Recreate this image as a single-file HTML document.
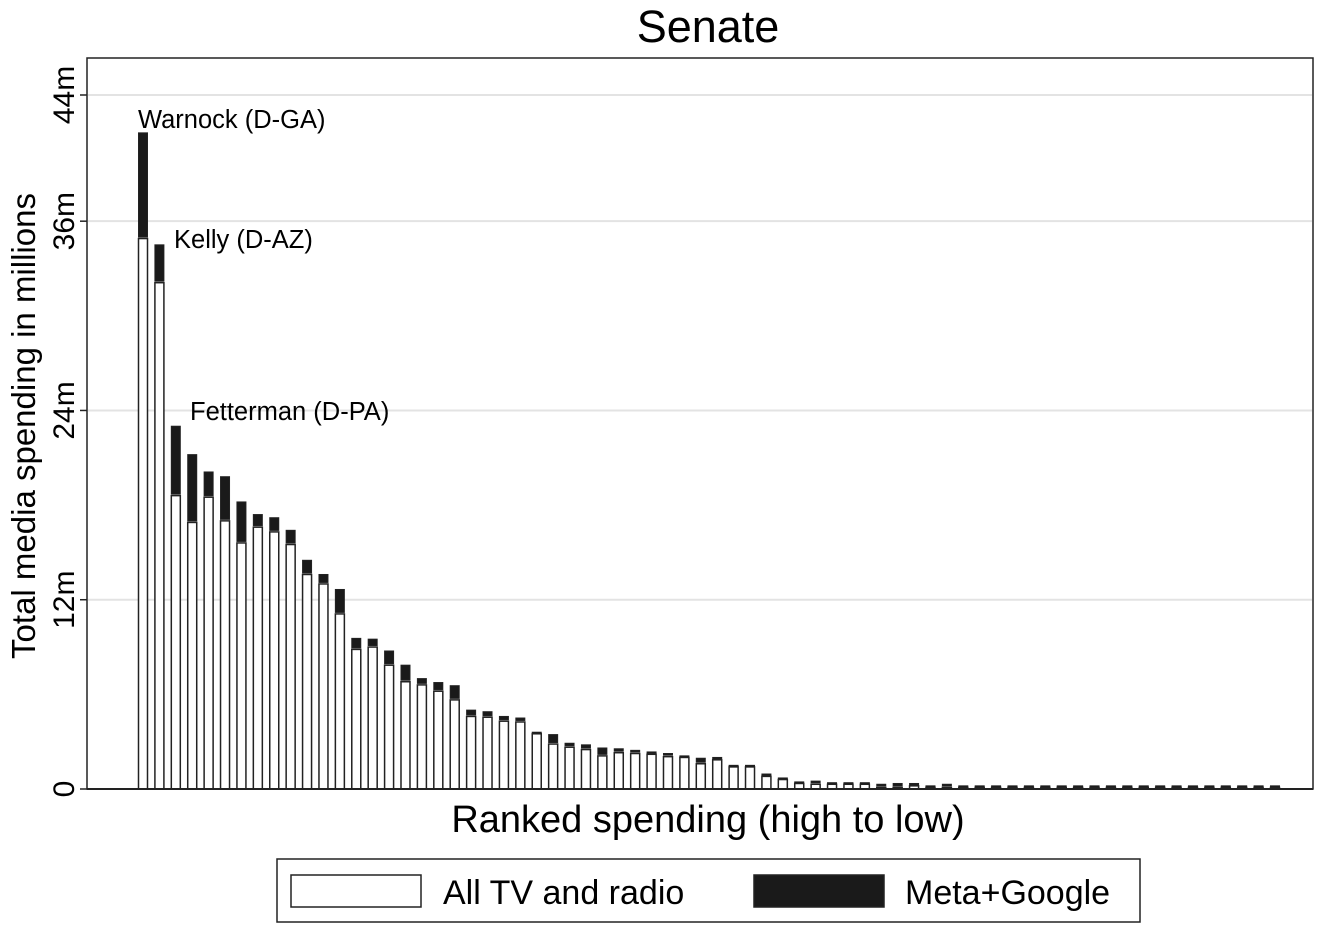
<!DOCTYPE html>
<html><head><meta charset="utf-8"><style>
body{margin:0;background:#fff;}
svg{display:block;font-family:"Liberation Sans",sans-serif;}
</style></head><body>
<svg id="chart" width="1323" height="930">
<text x="708" y="42" font-size="45" text-anchor="middle">Senate</text>
<rect x="87" y="58" width="1226" height="731" fill="#fff" stroke="#222" stroke-width="1.5"/>
<g id="grid"></g>
<g id="bars"></g>
<g id="yticks"></g>
<text transform="translate(35,426) rotate(-90)" font-size="33" text-anchor="middle">Total media spending in millions</text>
<text x="708" y="832" font-size="38" text-anchor="middle">Ranked spending (high to low)</text>
<text x="138" y="128" font-size="25.5">Warnock (D-GA)</text>
<text x="174" y="248" font-size="25.5">Kelly (D-AZ)</text>
<text x="190" y="420" font-size="25.5">Fetterman (D-PA)</text>
<g>
<rect x="277" y="859" width="863" height="63" fill="#fff" stroke="#222" stroke-width="1.5"/>
<rect x="291" y="875" width="130" height="32" fill="#fff" stroke="#222" stroke-width="1.5"/>
<text x="443" y="904" font-size="34">All TV and radio</text>
<rect x="754" y="875" width="130" height="32" fill="#1a1a1a" stroke="#222" stroke-width="1.5"/>
<text x="905" y="904" font-size="34">Meta+Google</text>
</g>
</svg>
<script>
const tvValues=[34.9,32.1,18.6,16.9,18.5,17.0,15.6,16.6,16.3,15.5,13.6,13.0,11.1,8.85,9.0,7.85,6.8,6.6,6.2,5.65,4.6,4.55,4.3,4.25,3.5,2.85,2.65,2.5,2.1,2.3,2.25,2.2,2.05,2.0,1.6,1.85,1.4,1.4,0.8,0.6,0.35,0.3,0.3,0.3,0.3,0.1,0.1,0.2,0.1,0.1,0.1,0.1,0.1,0.1,0.1,0.1,0.1,0.1,0.1,0.1,0.1,0.1,0.1,0.1,0.1,0.1,0.1,0.1,0.1,0.1];
const totalValues=[41.6,34.5,23.0,21.2,20.1,19.8,18.2,17.4,17.2,16.4,14.5,13.6,12.65,9.55,9.5,8.75,7.85,7.0,6.75,6.55,5.0,4.9,4.6,4.5,3.6,3.45,2.9,2.8,2.6,2.55,2.45,2.35,2.25,2.1,1.95,2.0,1.5,1.5,0.95,0.7,0.45,0.5,0.4,0.4,0.4,0.3,0.35,0.35,0.2,0.3,0.2,0.2,0.2,0.2,0.2,0.2,0.2,0.2,0.2,0.2,0.2,0.2,0.2,0.2,0.2,0.2,0.2,0.2,0.2,0.2];
const yTicks=[0,12,24,36,44];
const yTickLabels=["0","12m","24m","36m","44m"];
const NS="http://www.w3.org/2000/svg";
function y(v){return 789-v*(789-95)/44;}
function x(i){return 143+i*(1275-143)/69;}
const grid=document.getElementById('grid'),yt=document.getElementById('yticks'),bars=document.getElementById('bars');
yTicks.forEach((t,k)=>{
 if(t>0){const l=document.createElementNS(NS,'line');
 l.setAttribute('x1',88);l.setAttribute('x2',1312);l.setAttribute('y1',y(t));l.setAttribute('y2',y(t));
 l.setAttribute('stroke','#e3e3e3');l.setAttribute('stroke-width','2');
 
 
 grid.appendChild(l);}
 const tk=document.createElementNS(NS,'line');
 tk.setAttribute('x1',80);tk.setAttribute('x2',87);tk.setAttribute('y1',y(t));tk.setAttribute('y2',y(t));tk.setAttribute('stroke','#222');tk.setAttribute('stroke-width','1.5');
 
 
 yt.appendChild(tk);
 const tx=document.createElementNS(NS,'text');
 tx.setAttribute('transform','translate(74,'+y(t)+') rotate(-90)');
 tx.setAttribute('text-anchor','middle');tx.setAttribute('font-size','30');
 tx.textContent=yTickLabels[k];
 
 
 yt.appendChild(tx);
});
const bw=9;
tvValues.forEach((tv,i)=>{
 const tot=totalValues[i];
 const r=document.createElementNS(NS,'rect');
 r.setAttribute('x',x(i)-bw/2);r.setAttribute('y',y(tv));r.setAttribute('width',bw);r.setAttribute('height',Math.max(0.5,y(0)-y(tv)));
 r.setAttribute('fill','#fff');r.setAttribute('stroke','#222');r.setAttribute('stroke-width','1.5');
 
 
 bars.appendChild(r);
 const m=document.createElementNS(NS,'rect');
 m.setAttribute('x',x(i)-bw/2);m.setAttribute('y',y(tot));m.setAttribute('width',bw);m.setAttribute('height',Math.max(1.5,y(tv)-y(tot)-1.5));
 m.setAttribute('fill','#1a1a1a');m.setAttribute('stroke','#222');m.setAttribute('stroke-width','1');
 
 
 bars.appendChild(m);
});
const ax=document.createElementNS(NS,'line');
ax.setAttribute('x1',87);ax.setAttribute('x2',1313);ax.setAttribute('y1',789);ax.setAttribute('y2',789);ax.setAttribute('stroke','#222');ax.setAttribute('stroke-width','2');


bars.appendChild(ax);
</script>
</body></html>
